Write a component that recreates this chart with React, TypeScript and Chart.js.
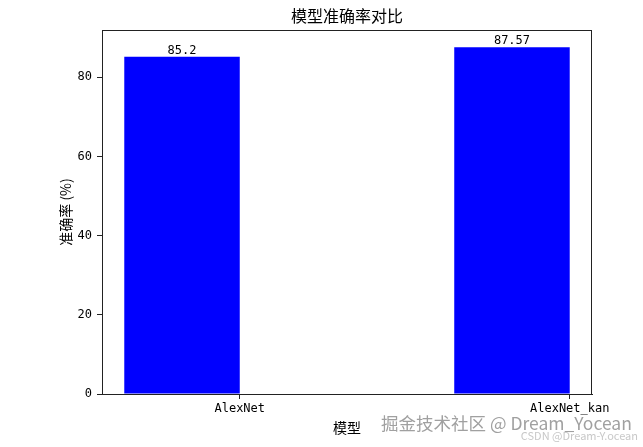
import { useEffect, useRef } from "react"
import { Chart, registerables, type ChartConfiguration, type Plugin } from "chart.js"

Chart.register(...registerables)

// data
const models = ["AlexNet", "AlexNet_kan"]
const accuracy = [85.2, 87.57]
const yTicks = [0, 20, 40, 60, 80]
const barWidth = 0.35

const titleText = "模型准确率对比"
const xTitle = "模型"
const yTitle = "准确率 (%)"

const cjk = '"Noto Sans CJK SC", sans-serif'
const mono = '"DejaVu Sans Mono", "Noto Sans CJK SC", monospace'
const ink = "#222"

// matplotlib style auto limits (5% margins)
const xLo = -barWidth
const xHi = models.length - 1
const xPad = (xHi - xLo) * 0.05
const yMax = Math.max(...accuracy) * 1.05

const framePlugin: Plugin<"bar"> = {
  id: "frame",
  afterDatasetsDraw(chart) {
    const { ctx, chartArea: a } = chart
    ctx.save()
    ctx.strokeStyle = ink
    ctx.lineWidth = 1
    ctx.strokeRect(a.left + 0.5, a.top + 0.5, a.right - a.left - 1, a.bottom - a.top)
    ctx.restore()
  },
}

const valueLabels: Plugin<"bar"> = {
  id: "valueLabels",
  afterDatasetsDraw(chart) {
    const { ctx } = chart
    const meta = chart.getDatasetMeta(0)
    ctx.save()
    ctx.font = `12px ${mono}`
    ctx.fillStyle = "#000"
    ctx.textAlign = "center"
    ctx.textBaseline = "alphabetic"
    meta.data.forEach((bar, i) => {
      ctx.fillText(String(accuracy[i]), bar.x, bar.y - 3)
    })
    ctx.restore()
  },
}

const titlePlugin: Plugin<"bar"> = {
  id: "plotTitle",
  afterDraw(chart) {
    const { ctx, chartArea: a } = chart
    ctx.save()
    ctx.font = `16px ${cjk}`
    ctx.fillStyle = "#000"
    ctx.textAlign = "center"
    ctx.textBaseline = "middle"
    ctx.fillText(titleText, (a.left + a.right) / 2, a.top - 14)
    ctx.restore()
  },
}

function AccuracyChart() {
  const canvasRef = useRef<HTMLCanvasElement>(null)

  useEffect(() => {
    if (!canvasRef.current) return
    const ctx = canvasRef.current.getContext("2d")
    if (!ctx) return

    const config: ChartConfiguration<"bar"> = {
      type: "bar",
      data: {
        datasets: [
          {
            data: accuracy.map((v, i) => ({ x: i - barWidth / 2, y: v })),
            backgroundColor: "#0000ff",
            borderWidth: 0,
            categoryPercentage: 1,
            barPercentage: barWidth,
          },
        ],
      },
      options: {
        responsive: true,
        maintainAspectRatio: false,
        animation: false,
        layout: { padding: { top: 30, right: 51, left: 0, bottom: 0 } },
        plugins: {
          legend: { display: false },
          tooltip: { enabled: false },
        },
        scales: {
          x: {
            type: "linear",
            offset: false,
            min: xLo - xPad,
            max: xHi + xPad,
            afterBuildTicks: (scale) => {
              scale.ticks = models.map((_, i) => ({ value: i }))
            },
            afterFit: (scale) => {
              scale.height = 53
            },
            ticks: {
              autoSkip: false,
              maxRotation: 0,
              padding: 3,
              color: "#000",
              font: { family: mono, size: 12 },
              callback: (v) => models[v as number] ?? "",
            },
            grid: {
              display: true,
              offset: false,
              drawOnChartArea: false,
              drawTicks: true,
              tickLength: 5,
              color: ink,
            },
            border: { display: true, color: ink, width: 1 },
            title: {
              display: true,
              text: xTitle,
              color: "#000",
              font: { family: cjk, size: 14 },
              padding: { top: 0, bottom: 11 },
            },
          },
          y: {
            min: 0,
            max: yMax,
            afterBuildTicks: (scale) => {
              scale.ticks = yTicks.map((value) => ({ value }))
            },
            afterFit: (scale) => {
              scale.width = 102
            },
            ticks: {
              padding: 5,
              color: "#000",
              font: { family: mono, size: 12 },
            },
            grid: { display: true, drawOnChartArea: false, drawTicks: true, tickLength: 5, color: ink },
            border: { display: true, color: ink, width: 1 },
            title: {
              display: true,
              text: yTitle,
              color: "#000",
              font: { family: cjk, size: 14 },
              padding: { top: 57, bottom: 0 },
            },
          },
        },
      },
      plugins: [framePlugin, valueLabels, titlePlugin],
    }

    const chart = new Chart(ctx, config)
    return () => chart.destroy()
  }, [])

  return (
    <div style={{ position: "fixed", left: 0, top: 0, width: 643, height: 447, background: "#fff" }}>
      <canvas ref={canvasRef}></canvas>
      <div
        style={{
          position: "absolute",
          left: 381,
          top: 413,
          fontFamily: cjk,
          fontSize: 17.5,
          lineHeight: "20px",
          color: "#a0a0a0",
          whiteSpace: "nowrap",
          textShadow: "0 0 2px #fff",
          pointerEvents: "none",
        }}
      >
        掘金技术社区 @ Dream_Yocean
      </div>
      <div
        style={{
          position: "absolute",
          right: 5,
          top: 429,
          fontFamily: cjk,
          fontSize: 11,
          lineHeight: "13px",
          color: "#c8c8c8",
          whiteSpace: "nowrap",
          pointerEvents: "none",
        }}
      >
        CSDN @Dream-Y.ocean
      </div>
    </div>
  )
}

export default function App() {
  return <AccuracyChart />
}
